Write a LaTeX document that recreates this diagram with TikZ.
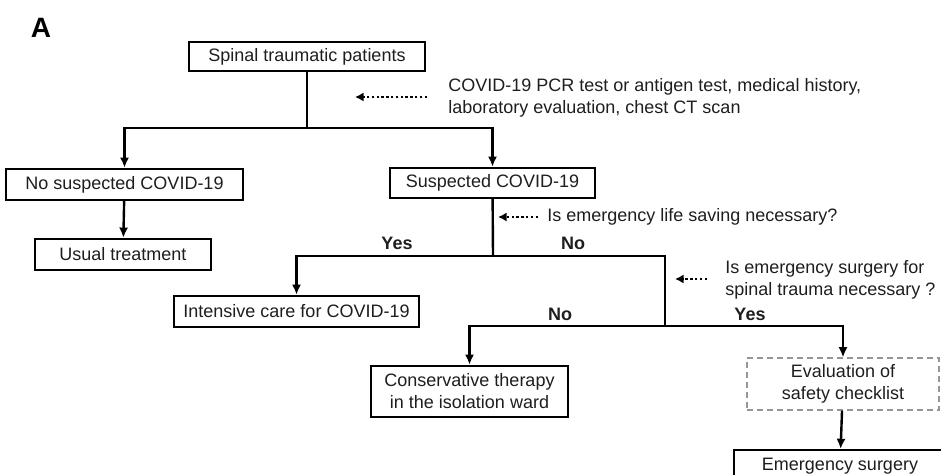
\documentclass[tikz,border=0pt]{standalone}
\usepackage{fontspec}
\setmainfont{Liberation Sans}
\usepackage{xcolor}
\usepackage{tikz}
\usetikzlibrary{arrows.meta,positioning}
\definecolor{tracocinza}{RGB}{150,150,150}
\definecolor{textoescuro}{RGB}{30,30,30}
\tikzset{
  caixa/.style={rectangle,draw=black,line width=1.2pt,fill=white,inner sep=2pt,
    align=center,text=textoescuro,font=\fontsize{9}{11}\selectfont},
  caixatrac/.style={rectangle,draw=tracocinza,line width=0.6pt,dash pattern=on 3pt off 2pt,
    inner sep=2pt,align=center,text=textoescuro,font=\fontsize{9}{11}\selectfont},
  linha/.style={line width=1.2pt,black},
  seta/.style={-{Latex[length=1.8mm,width=1.6mm]},line width=1.2pt,black},
  setapont/.style={-{Latex[length=1.5mm,width=1.6mm]},line width=1.3pt,black,
    dash pattern=on 1.2pt off 1.2pt},
  pergunta/.style={inner sep=0pt,align=left,text=textoescuro,font=\fontsize{9}{11}\selectfont},
  rotulo/.style={inner sep=0pt,text=textoescuro,font=\bfseries\fontsize{9}{11}\selectfont}
}

\begin{document}
\begin{tikzpicture}[x=0.5pt,y=-0.5pt]
\useasboundingbox (0,0) rectangle (941,475);
\clip (0,0) rectangle (941,475);
\node[font=\bfseries\fontsize{14}{16}\selectfont,inner sep=0pt] (letra) at (41,28) {A};

\node[caixa,minimum width=118pt,minimum height=14.5pt] (spinal) at (307,56.5) {Spinal traumatic patients};
\node[caixa,minimum width=118.5pt,minimum height=15.5pt] (nosusp) at (124.5,184.5) {No suspected COVID-19};
\node[caixa,minimum width=88pt,minimum height=15.5pt] (usual) at (123,254.5) {Usual treatment};
\node[caixa,minimum width=102.5pt,minimum height=15pt] (susp) at (492.5,183) {Suspected COVID-19};
\node[caixa,minimum width=122.5pt,minimum height=15.5pt] (icu) at (296.5,311.5) {Intensive care for COVID-19};
\node[caixa,minimum width=98.5pt,minimum height=25.5pt] (cons) at (469.5,391.5) {Conservative therapy\\in the isolation ward};
\node[caixatrac,minimum width=96pt,minimum height=26pt] (eval) at (843,384) {Evaluation of\\safety checklist};
\node[caixa,minimum width=106pt,inner ysep=4pt,anchor=north] (emerg) at (840,449) {Emergency surgery};

\node[pergunta,anchor=west] (pcr) at (448,98) {COVID-19 PCR test or antigen test, medical history,\\laboratory evaluation, chest CT scan};
\node[pergunta,anchor=west] (vida) at (547,217) {Is emergency life saving necessary?};
\node[pergunta,anchor=west] (cirurgia) at (725,280) {Is emergency surgery for\\spinal trauma necessary ?};

\node[rotulo] (sim1) at (397,243) {Yes};
\node[rotulo] (nao1) at (573,243) {No};
\node[rotulo] (nao2) at (560,314) {No};
\node[rotulo] (sim2) at (750,314) {Yes};

\coordinate (j1) at (307,128);
\coordinate (j2) at (493,256);
\coordinate (j3) at (665,326);
\coordinate (p1) at (355,97);
\coordinate (p2) at (498,217);
\coordinate (p3) at (675,279);

\draw[linha] (spinal) -- (j1);
\draw[seta] (j1) -| (nosusp.north);
\draw[seta] (j1) -| (susp.north);
\draw[seta] (nosusp) -- (usual);
\draw[linha] (susp) -- (j2);
\draw[seta] (j2) -| (icu.north);
\draw[linha] (j2) -| (j3);
\draw[seta] (j3) -| (cons.north);
\draw[seta] (j3) -| (eval.north);
\draw[seta] (eval) -- (emerg);

\draw[setapont,shorten <=10.5pt] (pcr.west |- p1) -- (p1);
\draw[setapont,shorten <=4.5pt] (vida.west) -- (p2);
\draw[setapont,shorten <=9pt] (cirurgia.west |- p3) -- (p3);
\end{tikzpicture}
\end{document}
